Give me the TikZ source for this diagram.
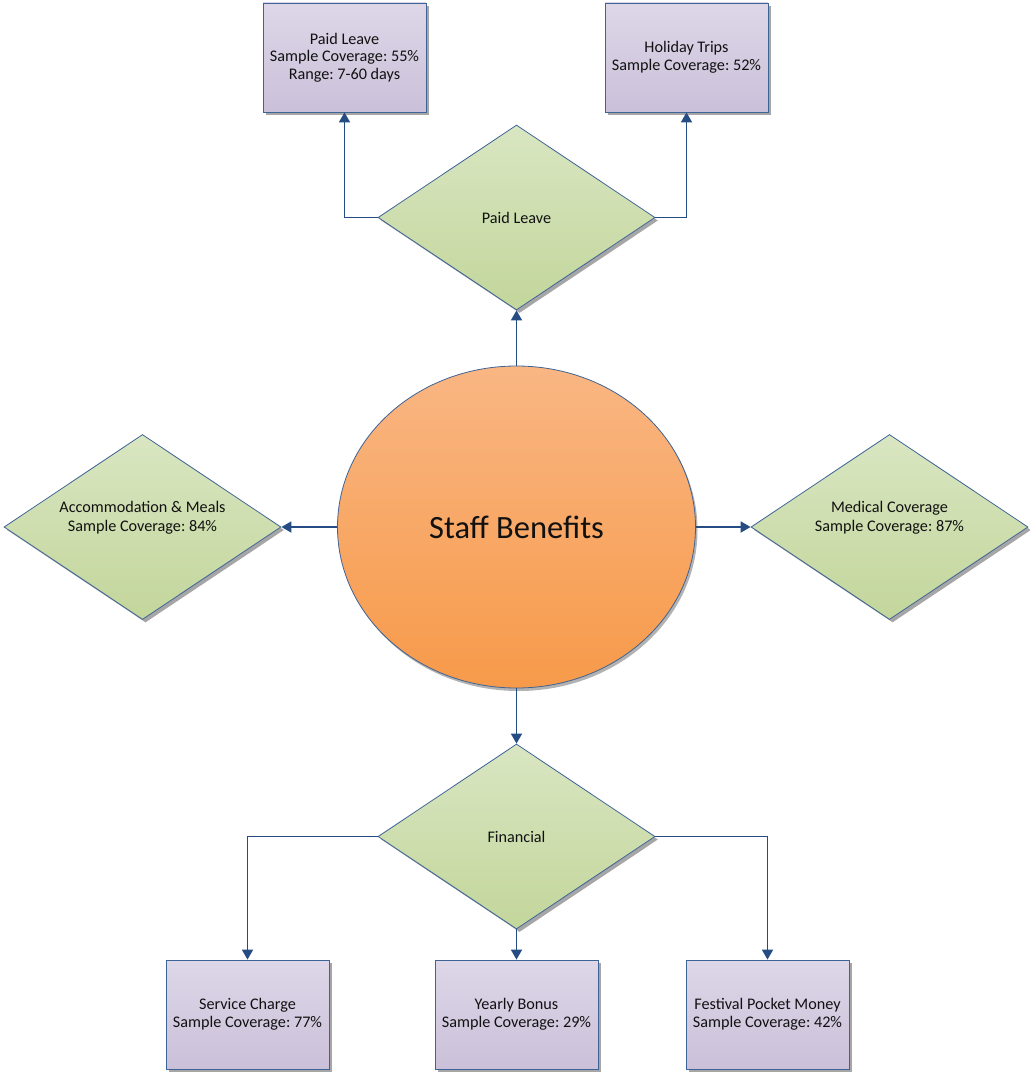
\documentclass[tikz,border=0pt]{standalone}
\usepackage{fontspec}
\setmainfont{Carlito}
\frenchspacing
\usetikzlibrary{shapes.geometric,arrows.meta,shadows}
\definecolor{edgeblue}{HTML}{3E6396}
\definecolor{connblue}{HTML}{254D84}
\definecolor{boxtop}{HTML}{DDD7E8}
\definecolor{boxbot}{HTML}{CBC0D9}
\definecolor{diatop}{HTML}{D9E6C2}
\definecolor{diabot}{HTML}{C3D69B}
\definecolor{circtop}{HTML}{F9B683}
\definecolor{circbot}{HTML}{F79A4A}
\definecolor{txt}{HTML}{111111}
\tikzset{
  shade/.style={drop shadow={shadow xshift=3pt, shadow yshift=-3pt, fill=black, opacity=0.35}},
  infobox/.style={rectangle, draw=edgeblue, line width=0.8pt, top color=boxtop, bottom color=boxbot,
    minimum width=163pt, minimum height=109pt, inner sep=0pt, align=center, text=txt,
    font=\fontsize{16.2}{17.6}\selectfont, shade},
  choice/.style={diamond, draw=edgeblue, line width=0.8pt, top color=diatop, bottom color=diabot,
    minimum width=277pt, minimum height=185pt, inner sep=0pt, align=center, text=txt,
    font=\fontsize{16.2}{17.6}\selectfont, shade},
  hub/.style={ellipse, draw=edgeblue, line width=0.8pt, top color=circtop, bottom color=circbot,
    minimum width=358pt, minimum height=322pt, inner sep=0pt, text=txt,
    font=\fontsize{32.5}{36}\selectfont, drop shadow={shadow xshift=2pt, shadow yshift=-3pt, fill=black, opacity=0.3}},
  inner/.style={align=center, text=txt, font=\fontsize{16.2}{19}\selectfont},
  conn/.style={draw=connblue, line width=1.8pt, -{Triangle[length=10pt,width=11pt]}}
}
\begin{document}
\begin{tikzpicture}[x=1pt,y=-1pt]
\useasboundingbox (0,0) rectangle (1029,1073);
% nodes
\node[hub] (circ) at (516.5,527) {Staff Benefits};
\node[choice] (pl) at (516.5,217.5) {Paid Leave};
\node[choice] (fin) at (516.5,836.5) {Financial};
\node[choice] (acc) at (142.5,527) {};
\node[inner] (acct) at (142.5,517.5) {Accommodation \& Meals\\Sample Coverage: 84\%};
\node[choice] (med) at (889.5,527) {};
\node[inner] (medt) at (889.5,517.5) {Medical Coverage\\Sample Coverage: 87\%};
\node[infobox] (b1) at (344.5,57.5) {Paid Leave\\Sample Coverage: 55\%\\Range: 7-60 days};
\node[infobox] (b2) at (686.5,57.5) {Holiday Trips\\Sample Coverage: 52\%};
\node[infobox] (sc) at (247.5,1014.5) {Service Charge\\Sample Coverage: 77\%};
\node[infobox] (yb) at (516.5,1014.5) {Yearly Bonus\\Sample Coverage: 29\%};
\node[infobox] (fp) at (767.5,1014.5) {Festival Pocket Money\\Sample Coverage: 42\%};
% connectors
\draw[conn] (circ.north) -- (pl.south);
\draw[conn] (pl.west) -| (b1.south);
\draw[conn] (pl.east) -| (b2.south);
\draw[conn] (circ.west) -- (acc.east);
\draw[conn] (circ.east) -- (med.west);
\draw[conn] (circ.south) -- (fin.north);
\draw[conn] (fin.west) -| (sc.north);
\draw[conn] (fin.south) -- (yb.north);
\draw[conn] (fin.east) -| (fp.north);
\end{tikzpicture}
\end{document}
